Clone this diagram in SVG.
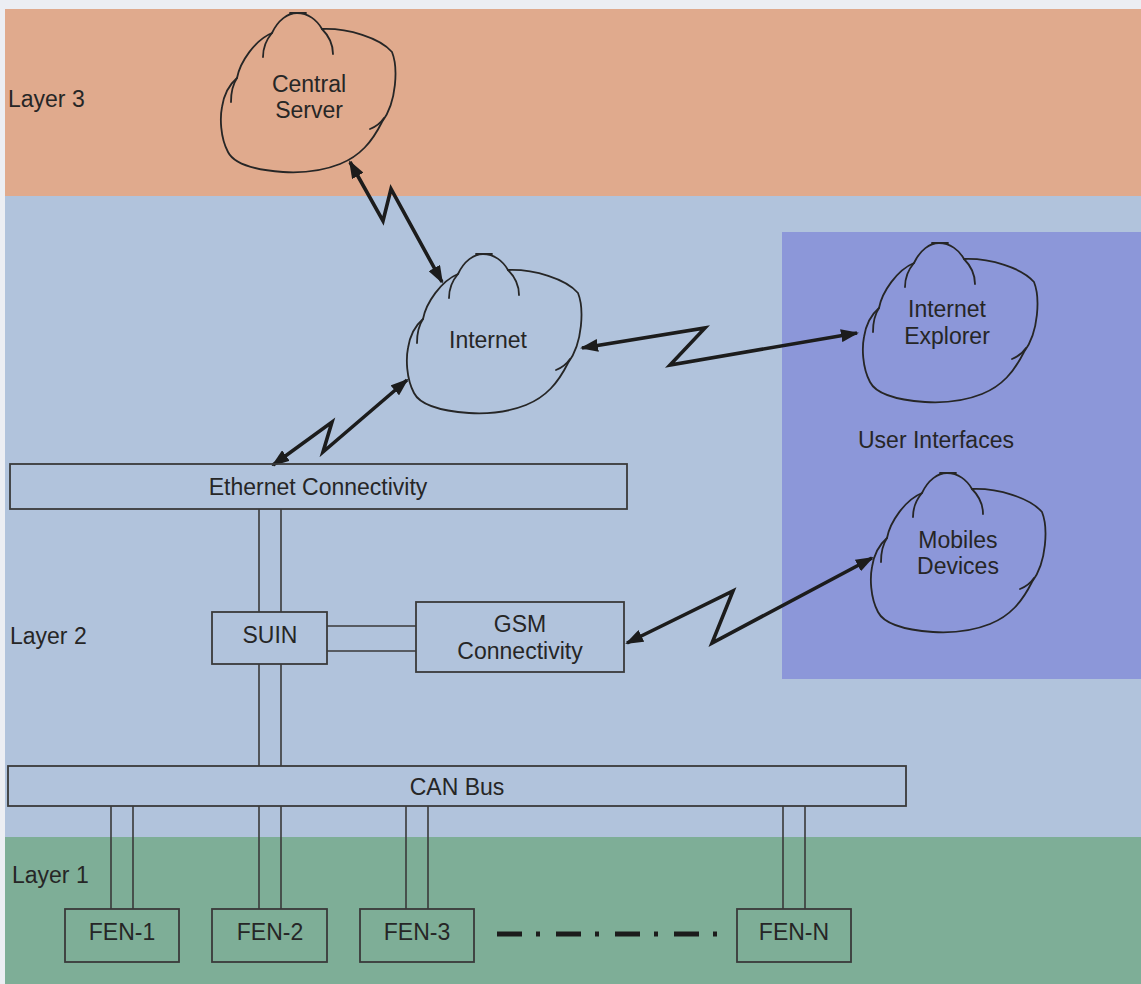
<svg xmlns="http://www.w3.org/2000/svg" xmlns:xlink="http://www.w3.org/1999/xlink" width="1141" height="984" viewBox="0 0 1141 984">
<style>
.lbl{font-family:"Liberation Sans",Arial,sans-serif;font-size:23px;fill:#262626}
.mid{text-anchor:middle}
.box{fill:none;stroke:#3a3a3a;stroke-width:1.8}
.wire{fill:none;stroke:#3a3a3a;stroke-width:1.6}
.cloud{fill:none;stroke:#262626;stroke-width:1.8;stroke-linecap:round}
.bolt{fill:none;stroke:#1c1c1c;stroke-width:3.6;stroke-linejoin:miter;marker-start:url(#ah);marker-end:url(#ah)}
</style>
<defs>
<marker id="ah" viewBox="0 0 18 13" refX="16" refY="6.5" markerWidth="18" markerHeight="13" markerUnits="userSpaceOnUse" orient="auto-start-reverse">
<path d="M0,0 L18,6.5 L0,13 Z" fill="#1c1c1c"/>
</marker>
<g id="cloudShape">
<path class="cloud" d="M52,21 C58,8 68,1 77,1 C88,1 97,8 102,17 C128,16 160,26 172,40 C178,55 177,90 162,110 C152,130 140,144 120,152 C100,160 80,161 63,160 C35,158 14,152 8,140 C0,125 0,105 2,95 C4,82 10,72 17,66 C20,50 35,28 52,21 Z"/>
<path class="cloud" d="M52,21 C46,28 43,36 43,45 M102,17 C109,24 113,32 113,42 M17,66 C13,72 11,80 11,90 M164,106 C160,112 155,115 150,117 M70,1 L86,1"/>
</g>
</defs>

<g id="background">
<rect x="0" y="0" width="1141" height="984" fill="#eceef3"/>
<rect x="5" y="9" width="1136" height="187" fill="#e0aa8d"/>
<rect x="5" y="196" width="1136" height="641" fill="#b1c3dc"/>
<rect x="5" y="837" width="1136" height="147" fill="#7eae97"/>
<rect x="782" y="232" width="359" height="447" fill="#8c97d9"/>
<text class="lbl" x="8" y="107">Layer 3</text>
<text class="lbl" x="10" y="644">Layer 2</text>
<text class="lbl" x="12" y="883">Layer 1</text>
<text class="lbl" x="858" y="448">User Interfaces</text>
</g>

<g id="connectors">
<path class="wire" d="M259,509 V612 M281,509 V612 M259,664 V766 M281,664 V766 M327,626 H416 M327,651 H416 M111,806 V909 M133,806 V909 M259,806 V909 M281,806 V909 M406,806 V909 M428,806 V909 M783,806 V909 M805,806 V909"/>
<polyline class="bolt" points="350,162 383,221 391,189 442,282"/>
<polyline class="bolt" points="582,348 705,328 670,365 857,333"/>
<polyline class="bolt" points="407,380 323,452 332,422 273,465"/>
<polyline class="bolt" points="627,643 733,591 712,643 872,558"/>
<line x1="497" y1="934" x2="718" y2="934" stroke="#1c1c1c" stroke-width="5" stroke-dasharray="25 14 4 16"/>
</g>

<g id="central-server">
<use xlink:href="#cloudShape" href="#cloudShape" transform="translate(220,12)"/>
<text class="lbl mid" x="309" y="92">Central</text>
<text class="lbl mid" x="309" y="118">Server</text>
</g>

<g id="internet">
<use xlink:href="#cloudShape" href="#cloudShape" transform="translate(406,253)"/>
<text class="lbl mid" x="488" y="348">Internet</text>
</g>

<g id="internet-explorer">
<use xlink:href="#cloudShape" href="#cloudShape" transform="translate(862,242)"/>
<text class="lbl mid" x="947" y="317">Internet</text>
<text class="lbl mid" x="947" y="344">Explorer</text>
</g>

<g id="mobile-devices">
<use xlink:href="#cloudShape" href="#cloudShape" transform="translate(870,472)"/>
<text class="lbl mid" x="958" y="548">Mobiles</text>
<text class="lbl mid" x="958" y="574">Devices</text>
</g>

<g id="ethernet">
<rect class="box" x="10" y="464" width="617" height="45"/>
<text class="lbl mid" x="318" y="495">Ethernet Connectivity</text>
</g>

<g id="suin">
<rect class="box" x="212" y="612" width="115" height="52"/>
<text class="lbl mid" x="270" y="643">SUIN</text>
</g>

<g id="gsm">
<rect class="box" x="416" y="602" width="208" height="70"/>
<text class="lbl mid" x="520" y="632">GSM</text>
<text class="lbl mid" x="520" y="659">Connectivity</text>
</g>

<g id="can-bus">
<rect class="box" x="8" y="766" width="898" height="40"/>
<text class="lbl mid" x="457" y="795">CAN Bus</text>
</g>

<g id="fen-1">
<rect class="box" x="65" y="909" width="114" height="53"/>
<text class="lbl mid" x="122" y="940">FEN-1</text>
</g>
<g id="fen-2">
<rect class="box" x="212" y="909" width="115" height="53"/>
<text class="lbl mid" x="270" y="940">FEN-2</text>
</g>
<g id="fen-3">
<rect class="box" x="360" y="909" width="114" height="53"/>
<text class="lbl mid" x="417" y="940">FEN-3</text>
</g>
<g id="fen-n">
<rect class="box" x="737" y="909" width="114" height="53"/>
<text class="lbl mid" x="794" y="940">FEN-N</text>
</g>
</svg>
